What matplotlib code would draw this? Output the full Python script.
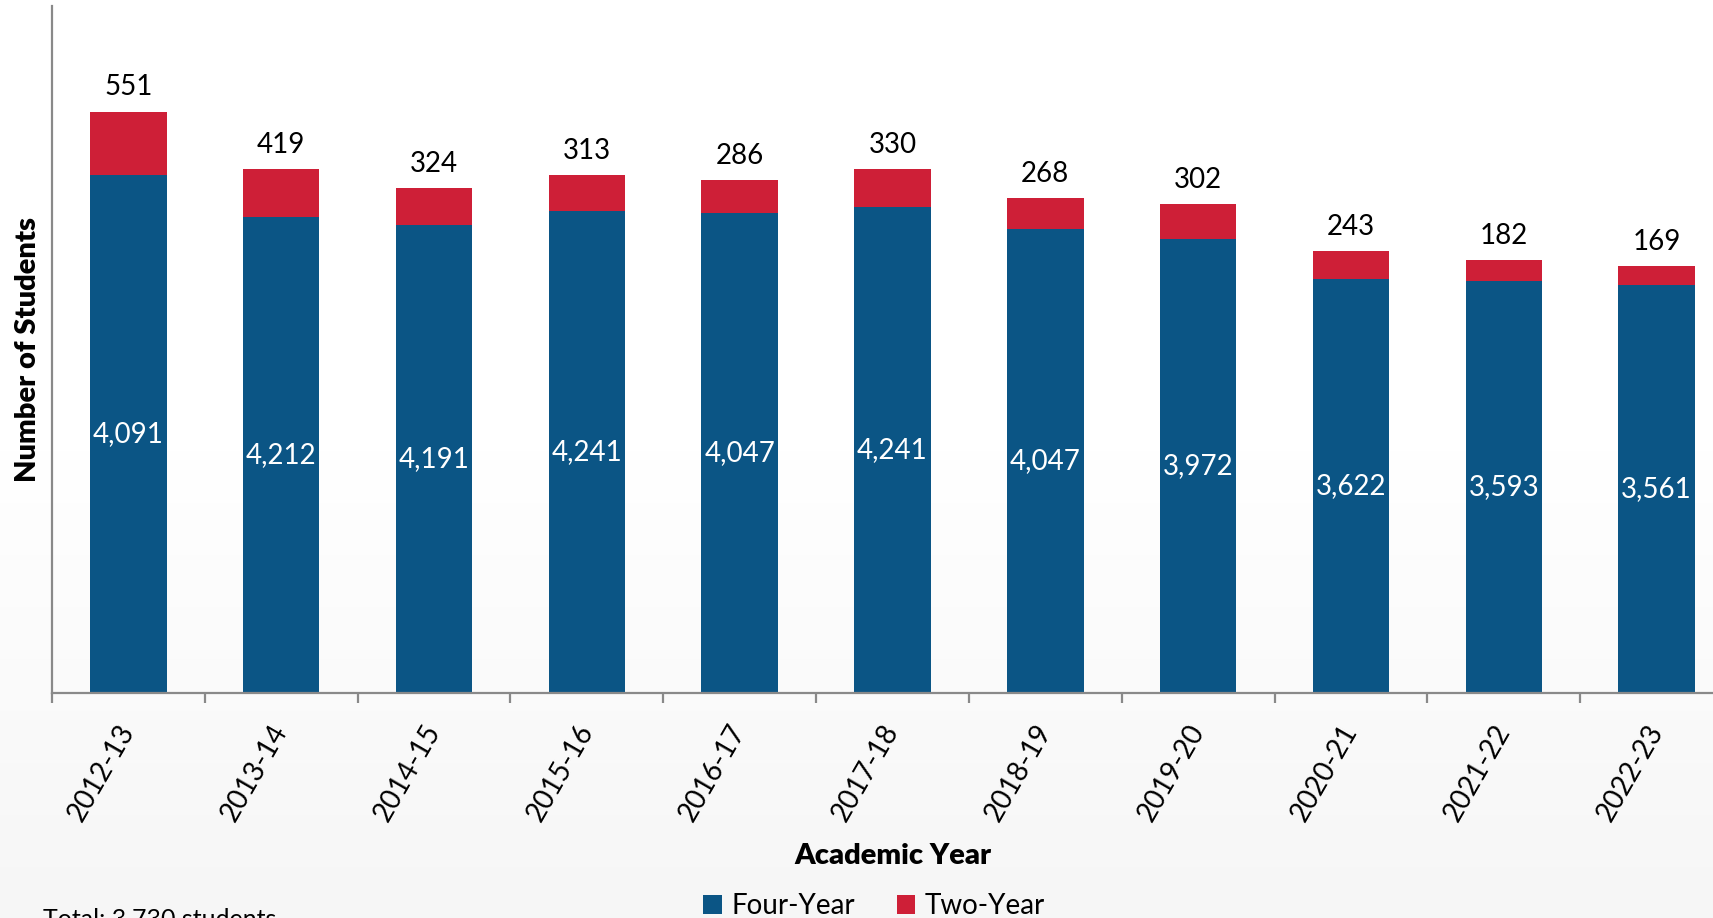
import matplotlib.pyplot as plt
import numpy as np

plt.rcParams['font.family'] = ['Lato', 'DejaVu Sans']

# Data
years = ['2012-13', '2013-14', '2014-15', '2015-16', '2016-17', '2017-18',
         '2018-19', '2019-20', '2020-21', '2021-22', '2022-23']
# values printed on the chart
four_year_labels = [4091, 4212, 4191, 4241, 4047, 4241, 4047, 3972, 3622, 3593, 3561]
two_year = [551, 419, 324, 313, 286, 330, 268, 302, 243, 182, 169]
# heights of the blue segments as drawn in the reference
four_year_heights = [4485, 4120, 4050, 4175, 4155, 4210, 4015, 3930, 3585, 3565, 3530]

blue = '#0B5585'
red = '#CE1F37'

W, H = 1713, 918
fig = plt.figure(figsize=(W / 100, H / 100), dpi=100)

# background gradient (white top -> light grey bottom)
bg = fig.add_axes([0, 0, 1, 1], zorder=-1)
grad = np.ones((H, 1))
ys = np.arange(H)
t = np.clip((ys - 450) / (H - 450), 0, 1)
grad[:, 0] = 1 - t * (1 - 0xf6 / 255)
bg.imshow(np.dstack([grad, grad, grad]), aspect='auto', extent=[0, 1, 0, 1])
bg.axis('off')

# main axes (right edge runs past the figure like the reference)
left, right, bottom, top = 52, 1733, 693, 6
ax = fig.add_axes([left / W, 1 - bottom / H, (right - left) / W, (bottom - top) / H])
ax.set_facecolor('none')

x = np.arange(len(years))
ax.bar(x, four_year_heights, width=0.5, color=blue, label='Four-Year')
ax.bar(x, two_year, width=0.5, bottom=four_year_heights, color=red, label='Two-Year')

for i in range(len(years)):
    ax.text(x[i], four_year_heights[i] / 2, f'{four_year_labels[i]:,}',
            ha='center', va='center', color='white', fontsize=20)
    ax.annotate(f'{two_year[i]:,}', (x[i], four_year_heights[i] + two_year[i]),
                xytext=(0, 8), textcoords='offset points',
                ha='center', va='bottom', color='black', fontsize=20)

ax.set_xlim(-0.5, len(years) - 0.5)
ax.set_ylim(0, 5950)

for s in ['top', 'right']:
    ax.spines[s].set_visible(False)
for s in ['left', 'bottom']:
    ax.spines[s].set_color('#898989')
    ax.spines[s].set_linewidth(1.6)

ax.set_yticks([])
ax.set_xticks(np.arange(-0.5, len(years) + 0.5, 1))
ax.set_xticklabels([])
ax.tick_params(axis='x', which='major', length=7, width=1.6, color='#898989', direction='out')
ax.set_xticks(x, minor=True)
ax.set_xticklabels(years, minor=True, rotation=60, ha='right', va='center',
                   rotation_mode='anchor', fontsize=20)
ax.tick_params(axis='x', which='minor', length=0, pad=24)

ax.set_ylabel('Number of Students', fontsize=21, fontweight='heavy', va='center')
ax.yaxis.set_label_coords(-(52 - 28) / (right - left), 0.5)
ax.set_xlabel('Academic Year', fontsize=21, fontweight='heavy', va='center')
ax.xaxis.set_label_coords((893 - left) / (right - left), -(856 - bottom) / (bottom - top))

fig.legend(loc='center', bbox_to_anchor=(874 / W, 1 - 906 / H), ncol=2, frameon=False,
           fontsize=20, handlelength=0.65, handleheight=0.65, handletextpad=0.35,
           columnspacing=1.5)

fig.text(43 / W, 1 - 908 / H, 'Total: 3,730 students', ha='left', va='top', fontsize=18)

fig.savefig('out.png', dpi=100)
